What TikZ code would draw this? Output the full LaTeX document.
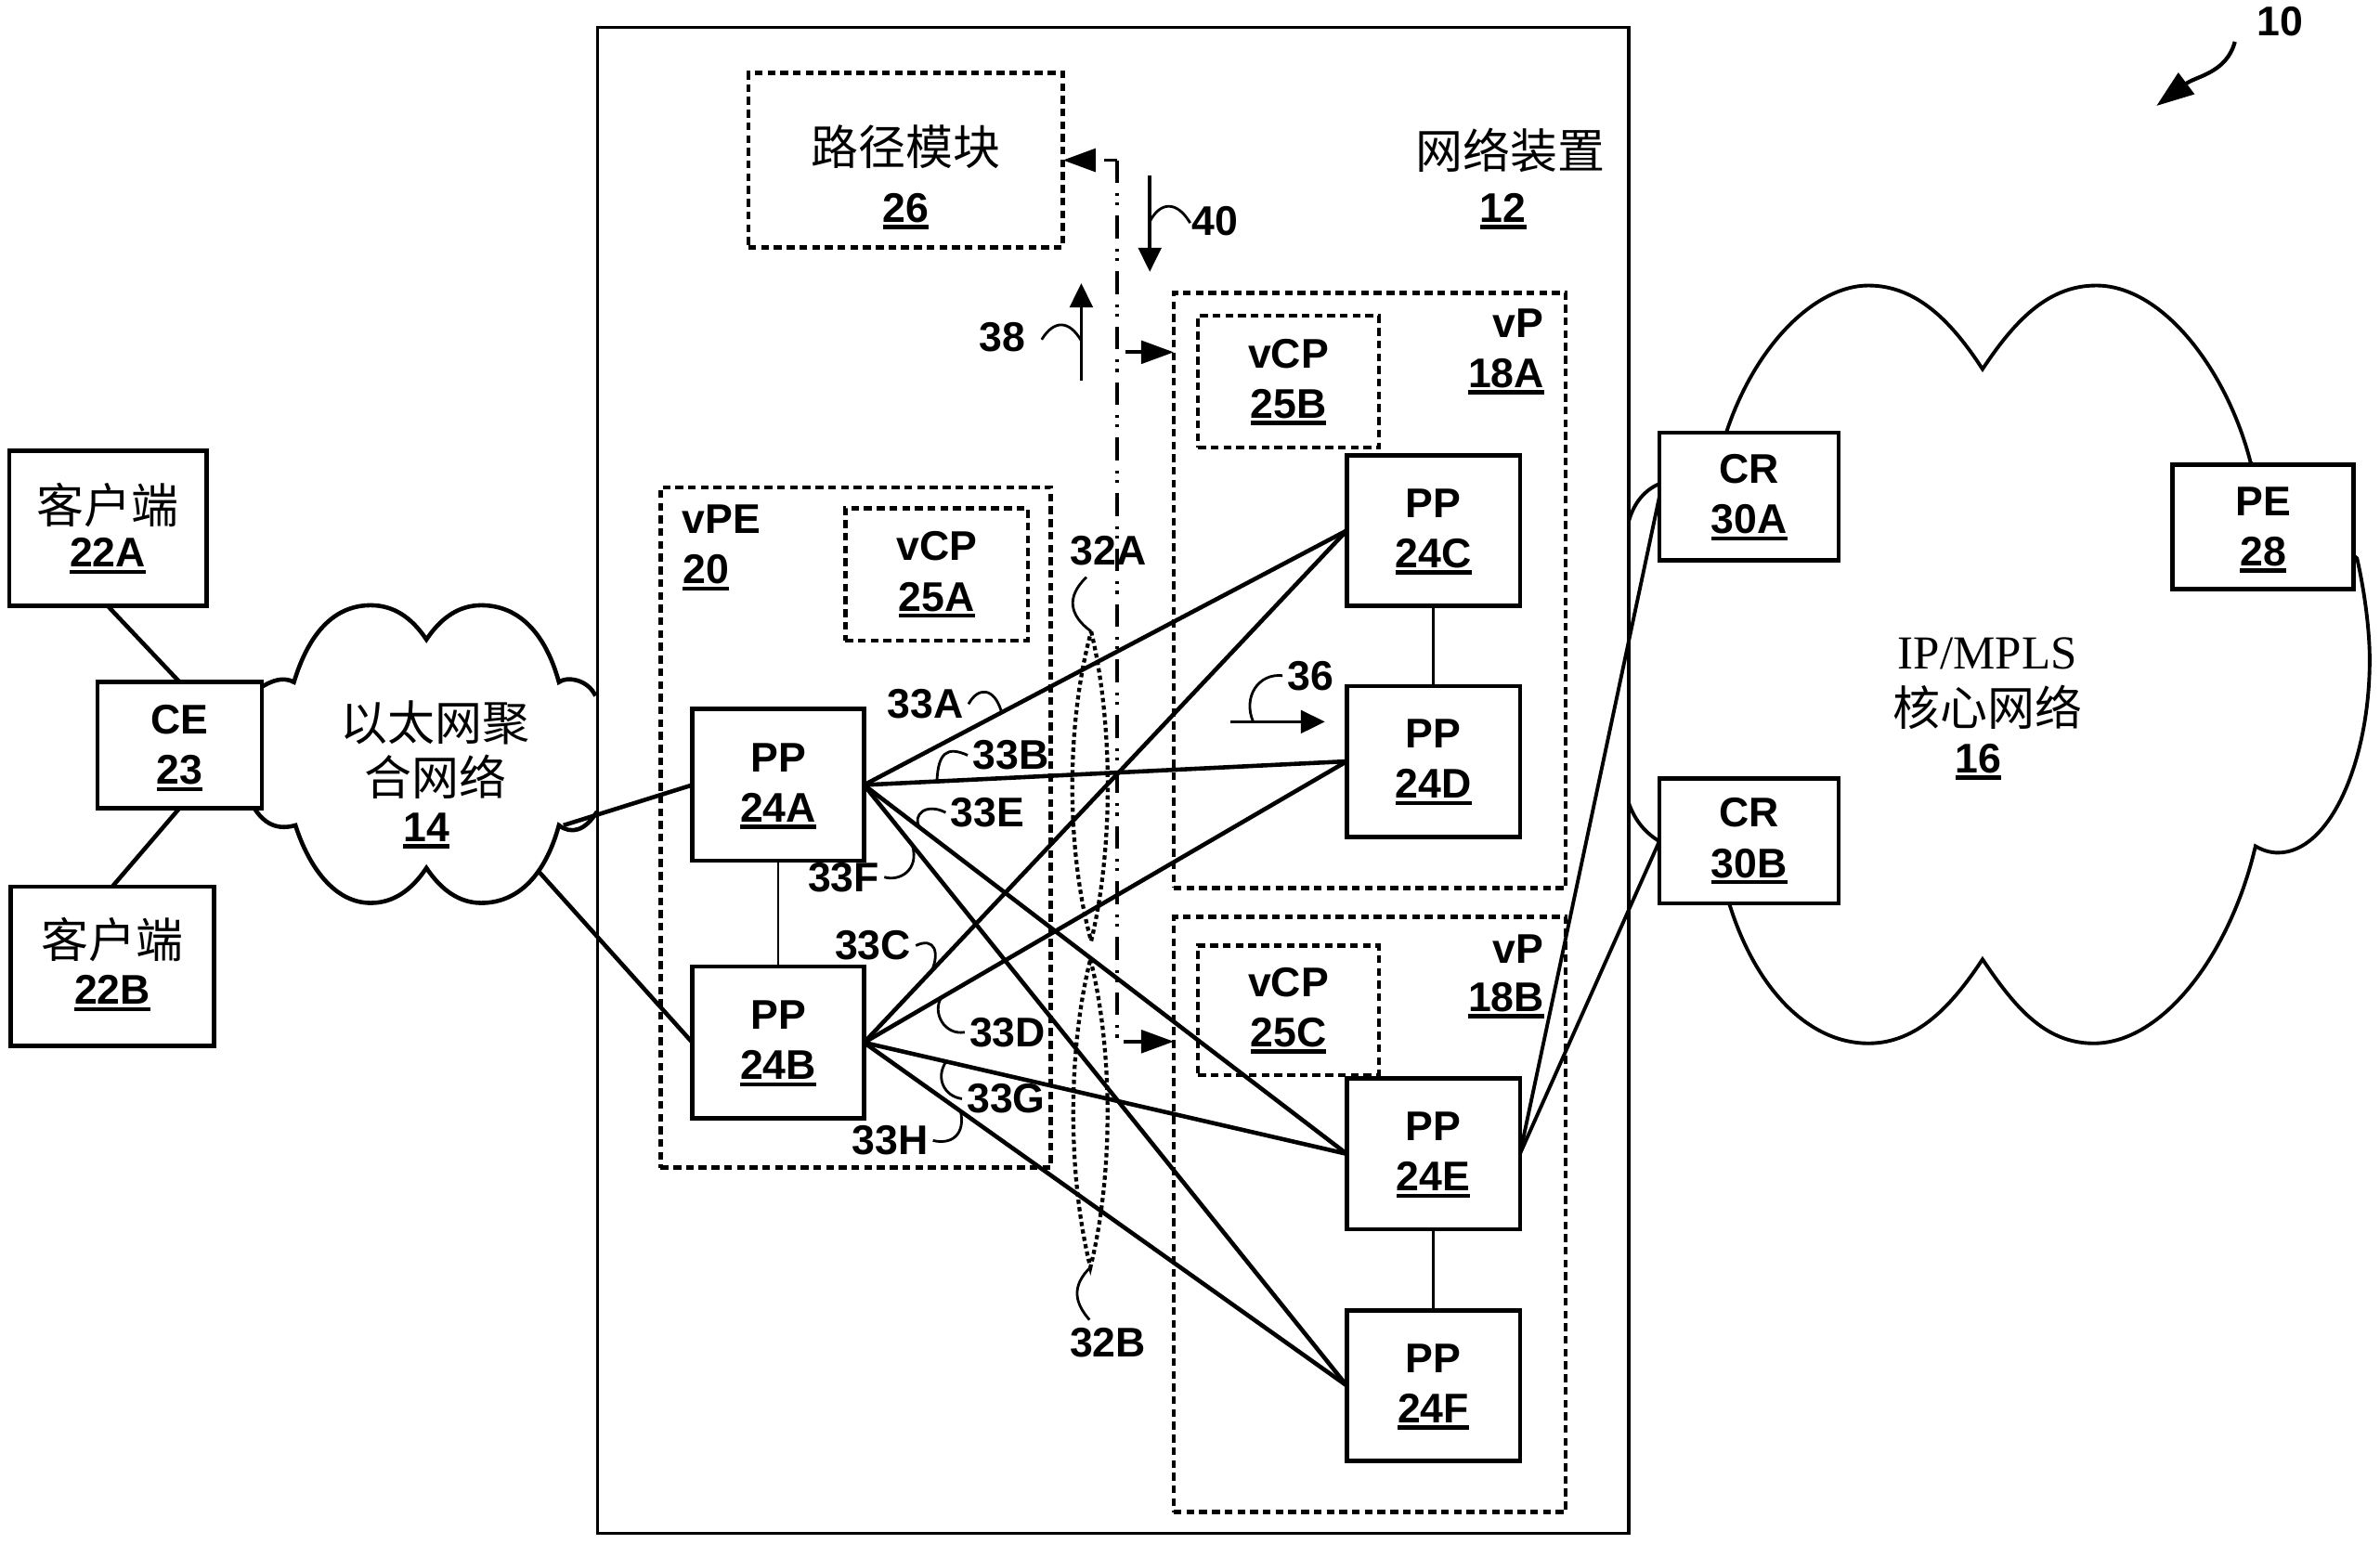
\documentclass[tikz,border=0pt]{standalone}
\usepackage{fontspec}
\usetikzlibrary{arrows.meta}
\setmainfont{Liberation Sans}
\newfontfamily\cjk{Noto Sans CJK SC}
\newfontfamily\iptext{Liberation Serif}
\newcommand{\refnum}[1]{\setbox0=\hbox{#1}\leavevmode\rlap{\smash{\rule[-2.1pt]{\wd0}{1.3pt}}}\box0}
\newcommand{\cntext}[1]{{\cjk\mdseries\fontsize{14.5}{17}\selectfont #1}}
\tikzset{
  every node/.style={inner sep=0pt,outer sep=0pt,align=center,font=\bfseries\fontsize{12.7}{15.4}\selectfont},
  netbox/.style 2 args={draw,fill=white,line width=1.3pt,minimum width=#1*0.164mm,minimum height=#2*0.164mm},
  dashbox/.style 2 args={draw,line width=1.3pt,dash pattern=on 2.4pt off 1.5pt,minimum width=#1*0.164mm,minimum height=#2*0.164mm},
  lab/.style={outer sep=1.5pt},
  link/.style={line width=1.3pt},
  thinlink/.style={line width=0.8pt},
  hook/.style={line width=0.8pt},
  cloud/.style={line width=1.1pt},
  lens/.style={line width=1.2pt,dash pattern=on 1.3pt off 1pt},
  bus/.style={line width=1.1pt,dash pattern=on 7pt off 3.1pt on 0.9pt off 2pt on 0.9pt off 3.1pt},
  flow/.style={line width=1pt,-{Triangle[length=7.4pt,width=7pt]}},
  tap/.style={line width=1.1pt,-{Triangle[length=10pt,width=7pt]}}
}
\begin{document}
\begin{tikzpicture}[x=0.164mm,y=-0.164mm]
\useasboundingbox (0,0) rectangle (1562.8,1013.4);
\draw [cloud,line width=1.3pt] (391,457) .. controls (386,446) and (372,444) .. (367,448)
  .. controls (358,415) and (340,397.5) .. (316,397.5)
  .. controls (302,397.5) and (290,405) .. (280,420)
  .. controls (270,405) and (258,397.5) .. (243.4,397.5)
  .. controls (220,397.5) and (203,415) .. (193,448)
  .. controls (186,444) and (176,446) .. (160,460)
  (160,515) .. controls (168,540) and (180,546) .. (194,542)
  .. controls (203,570) and (220,593) .. (243.4,593)
  .. controls (258,593) and (270,585) .. (280,570)
  .. controls (290,585) and (302,593) .. (316,593)
  .. controls (340,593) and (358,575) .. (367,542)
  .. controls (375,548) and (384,546) .. (392,533);
\draw [cloud] (1069.6,342) .. controls (1073,330) and (1080,322) .. (1089,318)
  -- (1133.4,284.4) .. controls (1153,225) and (1193,187.5) .. (1226.8,187.5)
  .. controls (1259,187.5) and (1282,212) .. (1301.8,242.4)
  .. controls (1322,212) and (1344,187.5) .. (1376.4,187.5)
  .. controls (1421,187.5) and (1463,245) .. (1477.8,303.7)
  -- (1547.7,366.7) .. controls (1553,390) and (1556,415) .. (1556,433.2)
  .. controls (1556,500) and (1530,560) .. (1495.7,560)
  .. controls (1490,560) and (1485,558) .. (1481,555.7)
  .. controls (1465,625) and (1421,685.2) .. (1374.7,685.2)
  .. controls (1342,685.2) and (1322,660) .. (1301.8,630)
  .. controls (1282,660) and (1259,685.2) .. (1226.8,685.2)
  .. controls (1188,685.2) and (1153,650) .. (1135.5,593.5)
  -- (1089,552.2) .. controls (1081,547) and (1074,540) .. (1069.6,527.7);
\draw [line width=1.1pt] (392.4,18) rectangle (1069.6,1007);
\node [dashbox={206.5}{114.5}] (route26) at (594.7,105.2) {};
\node [dashbox={256.3}{446.7}] (vPE20) at (561.9,543.4) {};
\node [dashbox={257.3}{390.8}] (vP18A) at (899.4,387.8) {};
\node [dashbox={257.3}{390.8}] (vP18B) at (899.4,797.6) {};
\node [dashbox={120}{86.7},text depth=1.9pt] (vCP25A) at (615,377.3) {vCP\\\refnum{25A}};
\node [dashbox={118.7}{86.6},text depth=1.9pt] (vCP25B) at (846,250.7) {vCP\\\refnum{25B}};
\node [dashbox={118.7}{85},text depth=1.9pt] (vCP25C) at (846,663.5) {vCP\\\refnum{25C}};
\node [netbox={129.6}{102},text depth=2pt] (client22A) at (70.8,347) {\cntext{客户端}\\[-1.9pt]\refnum{22A}};
\node [netbox={133.6}{104.8},text depth=3.3pt] (client22B) at (73.8,634.6) {\cntext{客户端}\\[-1pt]\refnum{22B}};
\node [netbox={108}{82.6}] (ce23) at (118,489.3) {CE\\\refnum{23}};
\node [netbox={112.7}{99.7},text depth=1.4pt] (pp24A) at (511,515.5) {PP\\\refnum{24A}};
\node [netbox={112.7}{99.7},text depth=1.4pt] (pp24B) at (511,684.7) {PP\\\refnum{24B}};
\node [netbox={113.7}{99},text depth=1.4pt] (pp24C) at (941.2,348.4) {PP\\\refnum{24C}};
\node [netbox={113.7}{99},text depth=1.4pt] (pp24D) at (941.2,500) {PP\\\refnum{24D}};
\node [netbox={113.7}{99},text depth=1.4pt] (pp24E) at (941.2,757.8) {PP\\\refnum{24E}};
\node [netbox={113.7}{99},text depth=1.4pt] (pp24F) at (941.2,910) {PP\\\refnum{24F}};
\node [netbox={117.7}{84},text depth=1.4pt] (cr30A) at (1148.5,326) {CR\\\refnum{30A}};
\node [netbox={117.7}{82},text depth=1.9pt] (cr30B) at (1148.5,552.3) {CR\\\refnum{30B}};
\node [netbox={118.7}{82}] (pe28) at (1486,346) {PE\\\refnum{28}};
\node (routelab) at (594.7,96.7) {\cntext{路径模块}};
\node (routenum) at (594.7,136.6) {\refnum{26}};
\node (eth14) at (285.7,492.5) {\cntext{以太网聚}\\[1.6pt]\cntext{合网络}};
\node (ethnum) at (280,543.3) {\refnum{14}};
\node (core16) at (1305,449) {{\iptext\mdseries\fontsize{14.5}{17}\selectfont IP/MPLS}\\[2pt]\cntext{核心网络}};
\node (corenum) at (1299,498) {\refnum{16}};
\node (dev12) at (992,98.7) {\cntext{网络装置}};
\node (devnum) at (987,136.6) {\refnum{12}};
\node (vPElab) at (473.6,341) {vPE};
\node (vPEnum) at (463.6,374) {\refnum{20}};
\node (vPAlab) at (997,212.4) {vP};
\node (vPAnum) at (989,245.3) {\refnum{18A}};
\node (vPBlab) at (997,623) {vP};
\node (vPBnum) at (989,655) {\refnum{18B}};
\coordinate (ethA) at (370,542);
\coordinate (ethB) at (352.8,571.3);
\draw [link] (client22A.south) -- (ce23.north);
\draw [link] (client22B.north) -- (ce23.south);
\draw [link] (pp24A.west) -- (ethA);
\draw [link] (pp24B.west) -- (ethB);
\draw [thinlink] (pp24A.south) -- (pp24B.north);
\draw [thinlink] (pp24C.south) -- (pp24D.north);
\draw [thinlink] (pp24E.south) -- (pp24F.north);
\draw [link] (pp24A.east) -- coordinate[pos=.285] (hk33A) (pp24C.west);
\draw [link] (pp24A.east) -- coordinate[pos=.151] (hk33B) (pp24D.west);
\draw [link] (pp24A.east) -- coordinate[pos=.115] (hk33E) (pp24E.west);
\draw [link] (pp24A.east) -- coordinate[pos=.1] (hk33F) (pp24F.west);
\draw [link] (pp24B.east) -- coordinate[pos=.14] (hk33C) (pp24C.west);
\draw [link] (pp24B.east) -- coordinate[pos=.16] (hk33D) (pp24D.west);
\draw [link] (pp24B.east) -- coordinate[pos=.17] (hk33G) (pp24E.west);
\draw [link] (pp24B.east) -- coordinate[pos=.2] (hk33H) (pp24F.west);
\draw [link,line width=1.1pt] (pp24E.east) -- (cr30A.west);
\draw [link,line width=1.1pt] (pp24E.east) -- (cr30B.west);
\node [lab] (lab33A) at (607.8,462.4) {33A};
\node [lab] (lab33B) at (663.6,496) {33B};
\node [lab] (lab33E) at (648.4,533.6) {33E};
\node [lab] (lab33F) at (554,576) {33F};
\node [lab] (lab33C) at (573.2,621) {33C};
\node [lab] (lab33D) at (661.6,677.9) {33D};
\node [lab] (lab33G) at (660.6,721.6) {33G};
\node [lab] (lab33H) at (584.4,749) {33H};
\node [lab] (lab32A) at (727.7,361.8) {32A};
\node [lab] (lab32B) at (727.5,882) {32B};
\node [lab] (lab36) at (860.5,443.7) {36};
\node [lab] (lab38) at (658,221.6) {38};
\node [lab] (lab40) at (798,145) {40};
\node [lab] (lab10) at (1497,14.2) {10};
\draw [hook] (lab33A.east) .. controls (642,451) and (653,451) .. (hk33A);
\draw [hook] (lab33B.west) .. controls (622,490) and (616,494) .. (hk33B);
\draw [hook] (lab33E.west) .. controls (608,527) and (599,535) .. (hk33E);
\draw [hook] (lab33F.east) .. controls (590,579) and (604,572) .. (hk33F);
\draw [hook] (lab33C.east) .. controls (614,615) and (617,626) .. (hk33C);
\draw [hook] (lab33D.west) .. controls (620,680) and (612,665) .. (hk33D);
\draw [hook] (lab33G.west) .. controls (620,720) and (614,708) .. (hk33G);
\draw [hook] (lab33H.east) .. controls (625,752) and (634,745) .. (hk33H);
\coordinate (lensAtop) at (716.5,414.7);
\coordinate (lensAbot) at (716.5,618);
\coordinate (lensBtop) at (716,630);
\coordinate (lensBbot) at (716,832.3);
\draw [lens] (lensAtop) .. controls (731,475) and (731,558) .. (lensAbot)
  .. controls (700,558) and (700,475) .. (lensAtop);
\draw [lens] (lensBtop) .. controls (731,690) and (731,772) .. (lensBbot)
  .. controls (701,772) and (701,690) .. (lensBtop);
\draw [hook] (713.4,379) .. controls (700,392) and (702,404) .. (lensAtop);
\draw [hook] (lensBbot) .. controls (703,845) and (706,856) .. (715.4,866.8);
\coordinate (busTop) at (733.4,105.2);
\coordinate (busEnd) at (733.4,682);
\coordinate (tapA) at (739.2,231.3);
\coordinate (tapB) at (737.8,684);
\draw [bus] (busTop) -- (busEnd);
\draw [tap,dash pattern=on 3.8pt off 100pt] (busTop) -- (route26.east);
\draw [tap] (tapA) -- (vP18A.west |- tapA);
\draw [tap] (tapB) -- (vP18B.west |- tapB);
\coordinate (up38a) at (710,250);
\coordinate (up38b) at (710,186);
\coordinate (dn40a) at (755,115);
\coordinate (dn40b) at (755,178.5);
\coordinate (in36a) at (808,474);
\coordinate (in36b) at (870,474);
\draw [flow] (up38a) -- coordinate[pos=.41] (hk38) (up38b);
\draw [flow] (dn40a) -- coordinate[pos=.48] (hk40) (dn40b);
\draw [flow] (in36a) -- coordinate[pos=.24] (hk36) (in36b);
\draw [hook] (684,223) .. controls (692,210) and (702,210) .. (hk38);
\draw [hook] (hk40) .. controls (762,132) and (773,132) .. (781.5,146.4);
\draw [hook] (lab36.west) .. controls (826,442) and (816,458) .. (hk36);
\coordinate (arr10a) at (1467.5,27.4);
\coordinate (arr10b) at (1416,69.5);
\draw [line width=1.2pt,-{Triangle[length=11.5pt,width=8pt]}] (arr10a) .. controls (1462,48) and (1442,50) .. (arr10b);
\end{tikzpicture}
\end{document}
